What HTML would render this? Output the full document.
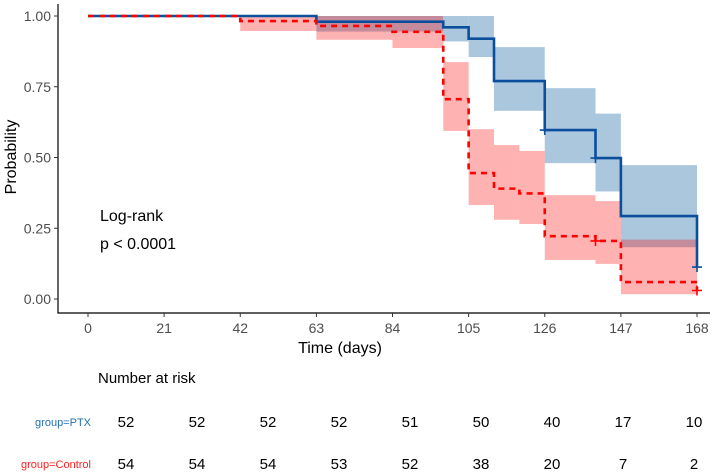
<!DOCTYPE html>
<html><head><meta charset="utf-8"><style>
body{margin:0;background:#fff}
svg{display:block;font-family:"Liberation Sans",Arial,sans-serif}
</style></head><body>
<svg id="c" width="726" height="473"></svg>
<script>
const days=[0,21,42,63,84,105,126,147,168];
const yTicks=[0,0.25,0.5,0.75,1];
const yTickLabels=["0.00","0.25","0.50","0.75","1.00"];
const ptxTimes=[0,63,98,105,112,126,140,147,168];
const ptxSurv=[1,0.98,0.96,0.92,0.77,0.597,0.498,0.293,0.113];
const ptxLo=[1,0.945,0.91,0.855,0.665,0.48,0.38,0.183];
const ptxHi=[1,1,1,1,0.89,0.745,0.655,0.473];
const ptxCensor=[[126,0.597],[140,0.498],[168,0.113]];
const ctlTimes=[0,42,63,84,98,105,112,119,126,140,147,168];
const ctlSurv=[1,0.982,0.965,0.944,0.706,0.445,0.39,0.373,0.222,0.205,0.06,0.03];
const ctlLo=[1,0.947,0.916,0.887,0.594,0.332,0.28,0.265,0.138,0.124,0.017];
const ctlHi=[1,1,1,1,0.837,0.6,0.544,0.523,0.367,0.346,0.21];
const ctlCensor=[[140,0.205],[168,0.03]];
const riskPTX=[52,52,52,52,51,50,40,17,10];
const riskCtl=[54,54,54,53,52,38,20,7,2];

const NS="http://www.w3.org/2000/svg";
const svg=document.getElementById('c');
const X=d=>88+d*(609/168);
const Y=p=>299-p*283;
function el(t,a,txt){const e=document.createElementNS(NS,t);for(const k in a)e.setAttribute(k,a[k]);if(txt!==undefined)e.textContent=txt;svg.appendChild(e);return e;}

function bands(times,lo,hi,fill,op,name){
  for(let i=0;i<lo.length;i++){
    const r=el('rect',{x:X(times[i]),y:Y(hi[i]),width:X(times[i+1])-X(times[i]),height:Y(lo[i])-Y(hi[i]),fill:fill,'fill-opacity':op});
    
    
  }
}
bands(ptxTimes,ptxLo,ptxHi,'#aac7de',1,'ptx');
bands(ctlTimes,ctlLo,ctlHi,'#ff0000',0.3,'control');

function stepPath(times,surv){
  let d='M'+X(times[0])+','+Y(surv[0]);
  for(let i=1;i<times.length;i++){d+=' H'+X(times[i])+' V'+Y(surv[i]);}
  return d;
}
let p=el('path',{d:stepPath(ptxTimes,ptxSurv),fill:'none',stroke:'#0b4f9c','stroke-width':2.6});


p=el('path',{d:stepPath(ctlTimes,ctlSurv),fill:'none',stroke:'#ff0000','stroke-width':2.6,'stroke-dasharray':'6,5'});



function censor(list,color,name){
  list.forEach(c=>{const x=X(c[0]),y=Y(c[1]);
    const g=el('path',{d:`M${x-5},${y}H${x+5}M${x},${y-5}V${y+5}`,stroke:color,'stroke-width':1.6});
    
    });
}
censor(ptxCensor,'#0b4f9c','ptx');censor(ctlCensor,'#ff0000','control');

// axes
let a=el('path',{d:'M58,4V313H710',fill:'none',stroke:'#000','stroke-width':1.2});


yTicks.forEach((v,i)=>{
  el('line',{x1:54,x2:58,y1:Y(v),y2:Y(v),stroke:'#333'});
  const t=el('text',{x:51,y:Y(v)+5,'text-anchor':'end','font-size':14,fill:'#4d4d4d'},yTickLabels[i]);
  
  
});
days.forEach(d=>{
  el('line',{x1:X(d),x2:X(d),y1:313,y2:317,stroke:'#333'});
  const t=el('text',{x:X(d),y:333,'text-anchor':'middle','font-size':14,fill:'#4d4d4d'},d);
  
  
});
let t=el('text',{x:340,y:353,'text-anchor':'middle','font-size':16},'Time (days)');

t=el('text',{x:0,y:0,transform:'translate(16,157) rotate(-90)','text-anchor':'middle','font-size':16},'Probability');

t=el('text',{x:100,y:221,'font-size':16},'Log-rank');

t=el('text',{x:100,y:249,'font-size':16},'p < 0.0001');


// risk table
t=el('text',{x:98,y:383,'font-size':15},'Number at risk');

t=el('text',{x:91,y:426,'text-anchor':'end','font-size':11,fill:'#1f6fb5'},'group=PTX');

t=el('text',{x:91,y:468,'text-anchor':'end','font-size':11,fill:'#ff2020'},'group=Control');

riskPTX.forEach((v,i)=>{
  const e=el('text',{x:126+i*71,y:427,'text-anchor':'middle','font-size':15},v);
  
  
});
riskCtl.forEach((v,i)=>{
  const e=el('text',{x:126+i*71,y:469,'text-anchor':'middle','font-size':15},v);
  
  
});
</script>
</body></html>
